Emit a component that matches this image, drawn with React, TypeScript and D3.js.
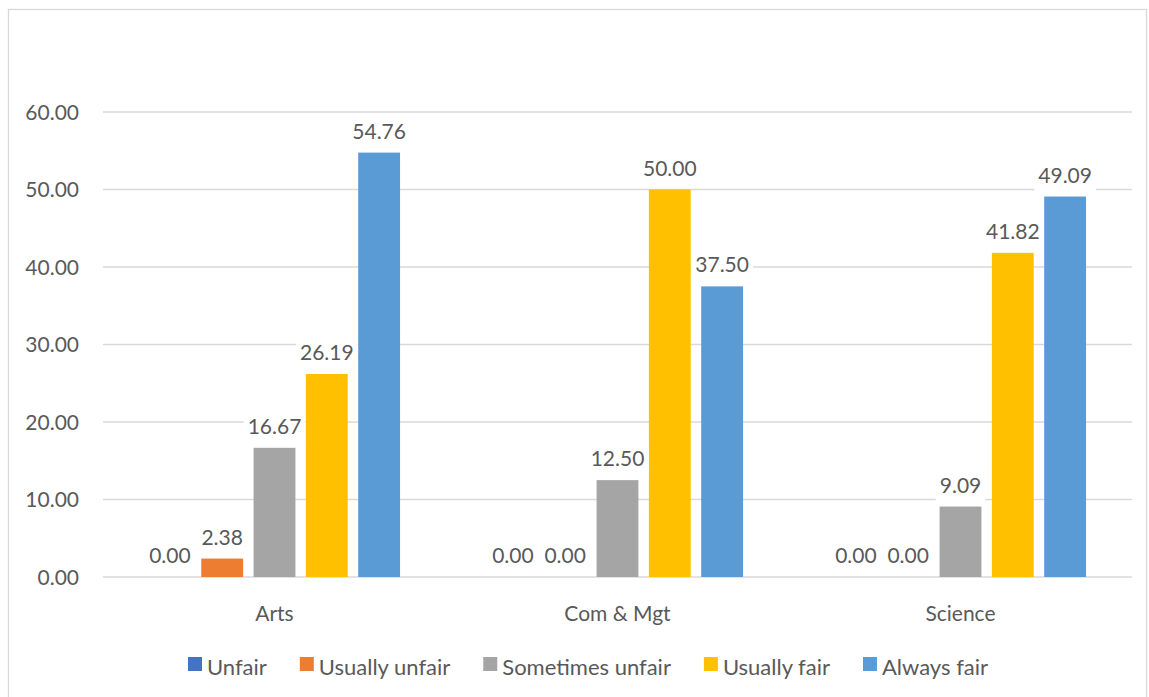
import React, { useEffect, useRef } from "react";
import * as d3 from "d3";

const categories = ["Arts", "Com & Mgt", "Science"];
const seriesNames = ["Unfair", "Usually unfair", "Sometimes unfair", "Usually fair", "Always fair"];
const unfair = [0.0, 0.0, 0.0];
const usuallyUnfair = [2.38, 0.0, 0.0];
const sometimesUnfair = [16.67, 12.5, 9.09];
const usuallyFair = [26.19, 50.0, 41.82];
const alwaysFair = [54.76, 37.5, 49.09];
const yTicks = [0, 10, 20, 30, 40, 50, 60];
const colors = ["#4472C4", "#ED7D31", "#A5A5A5", "#FFC000", "#5B9BD5"];

const W = 1149;
const H = 697;
const FONT = "Lato, 'Open Sans', sans-serif";
const FS = 21;
const LFS = 22;
const TXT = "#595959";

export default function App() {
  const ref = useRef<SVGSVGElement | null>(null);

  useEffect(() => {
    const svg = d3.select(ref.current);
    svg.selectAll("*").remove();

    const seriesValues = [unfair, usuallyUnfair, sometimesUnfair, usuallyFair, alwaysFair];
    const left = 103, right = 1132, top = 112, bottom = 577;

    const y = d3.scaleLinear().domain([0, 60]).range([bottom, top]);
    const x0 = d3.scaleBand<string>().domain(categories).range([left, right]).paddingInner(0.268).paddingOuter(0.134);
    const x1 = d3.scaleBand<string>().domain(seriesNames).range([0, x0.bandwidth()]).paddingInner(0.2).paddingOuter(0);

    // chart border
    svg.append("rect").attr("x", 8.5).attr("y", 9.5).attr("width", W - 11).attr("height", H + 20)
      .attr("fill", "#fff").attr("stroke", "#d9d9d9").attr("stroke-width", 1.3);

    // gridlines
    svg.append("g").selectAll("line").data(yTicks).join("line")
      .attr("x1", left).attr("x2", right)
      .attr("y1", (d) => y(d)).attr("y2", (d) => y(d))
      .attr("stroke", "#d9d9d9").attr("stroke-width", 1.3);

    // y tick labels
    svg.append("g").selectAll("text").data(yTicks).join("text")
      .attr("x", 79).attr("y", (d) => y(d)).attr("dy", "0.36em")
      .attr("text-anchor", "end").attr("font-family", FONT).attr("font-size", FS).attr("fill", TXT)
      .text((d) => d3.format(".2f")(d));

    // bars
    const flat: { cat: string; s: string; v: number; i: number }[] = [];
    categories.forEach((c, ci) => {
      seriesNames.forEach((s, si) => flat.push({ cat: c, s, v: seriesValues[si][ci], i: si }));
    });
    svg.append("g").selectAll("rect").data(flat.filter((d) => d.v > 0)).join("rect")
      .attr("x", (d) => (x0(d.cat) as number) + (x1(d.s) as number))
      .attr("width", x1.bandwidth())
      .attr("y", (d) => y(d.v))
      .attr("height", (d) => y(0) - y(d.v))
      .attr("fill", (d) => colors[d.i]);

    // data labels with white boxes
    const lg = svg.append("g");
    flat.forEach((d) => {
      const cx = (x0(d.cat) as number) + (x1(d.s) as number) + x1.bandwidth() / 2;
      const base = y(d.v) - 14;
      const g = lg.append("g");
      const rect = g.append("rect").attr("fill", "#fff");
      const t = g.append("text").attr("x", cx).attr("y", base).attr("text-anchor", "middle")
        .attr("font-family", FONT).attr("font-size", FS).attr("fill", TXT)
        .text(d3.format(".2f")(d.v));
      const w = (t.node() as SVGTextElement).getComputedTextLength();
      rect.attr("x", cx - w / 2 - 4).attr("width", w + 8).attr("y", base - 24).attr("height", 35);
    });

    // category labels
    svg.append("g").selectAll("text").data(categories).join("text")
      .attr("x", (d) => (x0(d) as number) + x0.bandwidth() / 2).attr("y", 621)
      .attr("text-anchor", "middle").attr("font-family", FONT).attr("font-size", FS).attr("fill", TXT)
      .text((d) => d);

    // legend
    const leg = svg.append("g");
    let lx = 188;
    seriesNames.forEach((s, i) => {
      leg.append("rect").attr("x", lx).attr("y", 657).attr("width", 14).attr("height", 14).attr("fill", colors[i]);
      const t = leg.append("text").attr("x", lx + 19).attr("y", 675)
        .attr("font-family", FONT).attr("font-size", LFS).attr("fill", TXT).text(s);
      const w = (t.node() as SVGTextElement).getComputedTextLength();
      lx = lx + 19 + w + 33;
    });
  }, []);

  return (
    <svg ref={ref} width={W} height={H}
      style={{ position: "absolute", left: 0, top: 0, display: "block", background: "#fff" }} />
  );
}
